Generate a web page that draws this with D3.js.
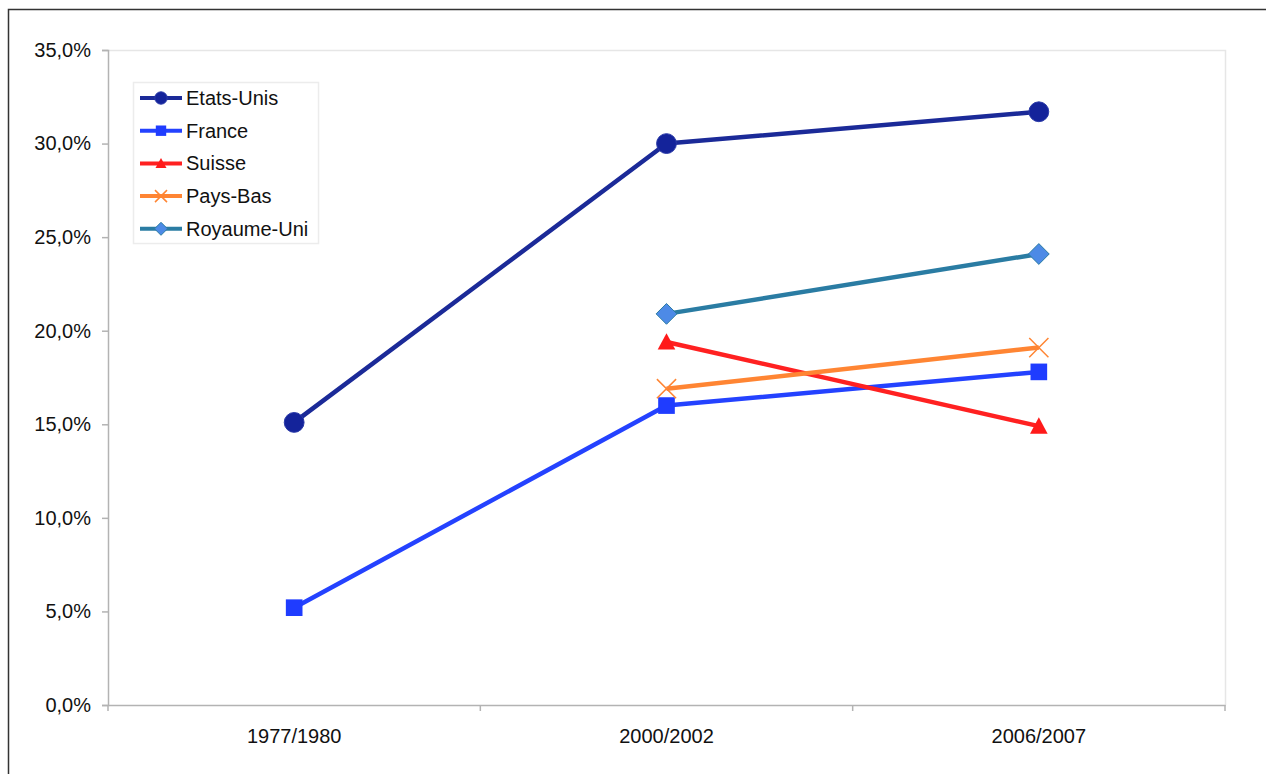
<!DOCTYPE html>
<html>
<head>
<meta charset="utf-8">
<script src="https://cdn.jsdelivr.net/npm/d3@7"></script>
<style>
  body { margin: 0; background: #fff; }
  text { font-family: "Liberation Sans", Arial, sans-serif; fill: #111; }
</style>
</head>
<body>
<script>
const periods = ['1977/1980', '2000/2002', '2006/2007'];
const yTicks = [0, 5, 10, 15, 20, 25, 30, 35];

const etatsUnis = [15.1, 30.0, 31.7];
const france = [5.2, 16.0, 17.8];
const suisse = [null, 19.4, 14.9];
const paysBas = [null, 16.9, 19.1];
const royaumeUni = [null, 20.9, 24.1];

const series = [
  { name: 'Etats-Unis', values: etatsUnis, color: '#1b2a98', fill: '#14239a', marker: 'circle' },
  { name: 'France', values: france, color: '#2442ff', fill: '#1f3cff', marker: 'square' },
  { name: 'Suisse', values: suisse, color: '#ff2121', fill: '#ff1a1a', marker: 'triangle' },
  { name: 'Pays-Bas', values: paysBas, color: '#ff8533', fill: 'none', marker: 'cross' },
  { name: 'Royaume-Uni', values: royaumeUni, color: '#2a7ca3', fill: '#4d8ae6', marker: 'diamond' }
];

const W = 1266, H = 774;
const plot = { left: 108, right: 1225, top: 50, bottom: 705 };

const svg = d3.select('body').append('svg')
  .attr('width', W)
  .attr('height', H);

// outer frame
svg.append('path')
  .attr('d', 'M8.5,' + (H + 5) + ' L8.5,9.5 L' + (W + 5) + ',9.5')
  .attr('fill', 'none')
  .attr('stroke', '#333')
  .attr('stroke-width', 1.5);

const x = d3.scaleBand().domain(periods).range([plot.left, plot.right]);
const y = d3.scaleLinear().domain([0, 35]).range([plot.bottom, plot.top]);

// plot area border (top + right)
svg.append('path')
  .attr('d', 'M' + plot.left + ',' + (plot.top + 0.5) + ' L' + (plot.right + 0.5) + ',' + (plot.top + 0.5) + ' L' + (plot.right + 0.5) + ',' + plot.bottom)
  .attr('fill', 'none')
  .attr('stroke', '#e6e6e6')
  .attr('stroke-width', 1.5);

// y axis
const yAxis = svg.append('g')
  .attr('transform', 'translate(' + plot.left + ',0)')
  .call(d3.axisLeft(y).tickValues(yTicks).tickSize(6).tickPadding(11)
    .tickFormat(d => d.toFixed(1).replace('.', ',') + '%'));
yAxis.select('.domain').attr('stroke', '#b3b3b3').attr('stroke-width', 1.5);
yAxis.selectAll('.tick line').attr('stroke', '#b3b3b3').attr('stroke-width', 1.5);
yAxis.selectAll('text').style('font-size', '20px').attr('fill', '#111');

// x axis
const xAxis = svg.append('g')
  .attr('transform', 'translate(0,' + plot.bottom + ')')
  .call(d3.axisBottom(x).tickSize(0).tickPadding(24));
xAxis.select('.domain').attr('stroke', '#b3b3b3').attr('stroke-width', 1.5);
xAxis.selectAll('text').style('font-size', '20px').attr('fill', '#111');
xAxis.selectAll('.sep')
  .data(periods.concat(['end']))
  .join('line')
  .attr('class', 'sep')
  .attr('x1', (d, i) => i < periods.length ? x(d) : plot.right)
  .attr('x2', (d, i) => i < periods.length ? x(d) : plot.right)
  .attr('y1', 0)
  .attr('y2', 6)
  .attr('stroke', '#b3b3b3')
  .attr('stroke-width', 1.5);

const cx = d => x(d) + x.bandwidth() / 2;

function drawMarker(g, s, px, py, size) {
  if (s.marker === 'circle') {
    g.append('circle').attr('cx', px).attr('cy', py).attr('r', size * 0.62)
      .attr('fill', s.fill).attr('stroke', '#2a3aa8').attr('stroke-width', 1);
  } else if (s.marker === 'square') {
    const h = size * 0.52;
    g.append('rect').attr('x', px - h).attr('y', py - h).attr('width', h * 2).attr('height', h * 2)
      .attr('fill', s.fill);
  } else if (s.marker === 'triangle') {
    const h = size * 0.55;
    g.append('path')
      .attr('d', 'M' + px + ',' + (py - h) + ' L' + (px + h) + ',' + (py + h * 0.85) + ' L' + (px - h) + ',' + (py + h * 0.85) + 'Z')
      .attr('fill', s.fill);
  } else if (s.marker === 'cross') {
    const h = size * 0.6;
    g.append('path')
      .attr('d', 'M' + (px - h) + ',' + (py - h) + ' L' + (px + h) + ',' + (py + h) + ' M' + (px + h) + ',' + (py - h) + ' L' + (px - h) + ',' + (py + h))
      .attr('fill', 'none').attr('stroke', s.color).attr('stroke-width', 1.5);
  } else if (s.marker === 'diamond') {
    const h = size * 0.65;
    g.append('path')
      .attr('d', 'M' + px + ',' + (py - h) + ' L' + (px + h) + ',' + py + ' L' + px + ',' + (py + h) + ' L' + (px - h) + ',' + py + 'Z')
      .attr('fill', s.fill).attr('stroke', s.color).attr('stroke-width', 1);
  }
}

const line = d3.line()
  .defined(d => d.v !== null)
  .x(d => cx(d.p))
  .y(d => y(d.v));

series.forEach(s => {
  const pts = periods.map((p, i) => ({ p: p, v: s.values[i] }));
  const g = svg.append('g');
  g.append('path')
    .attr('d', line(pts))
    .attr('fill', 'none')
    .attr('stroke', s.color)
    .attr('stroke-width', 4.5)
    .attr('stroke-linejoin', 'round');
  pts.filter(d => d.v !== null).forEach(d => drawMarker(g, s, cx(d.p), y(d.v), 16));
});

// legend
const legend = svg.append('g');
legend.append('rect')
  .attr('x', 133.5).attr('y', 82.5)
  .attr('width', 185).attr('height', 161)
  .attr('fill', '#fff')
  .attr('stroke', '#ececec')
  .attr('stroke-width', 1.5);

series.forEach((s, i) => {
  const ly = 98 + i * 32.7;
  const g = legend.append('g');
  g.append('line')
    .attr('x1', 140).attr('x2', 182)
    .attr('y1', ly).attr('y2', ly)
    .attr('stroke', s.color).attr('stroke-width', 4);
  drawMarker(g, s, 161, ly, 10);
  g.append('text')
    .attr('x', 186).attr('y', ly)
    .attr('dy', '0.35em')
    .style('font-size', '20px')
    .text(s.name);
});
</script>
</body>
</html>
